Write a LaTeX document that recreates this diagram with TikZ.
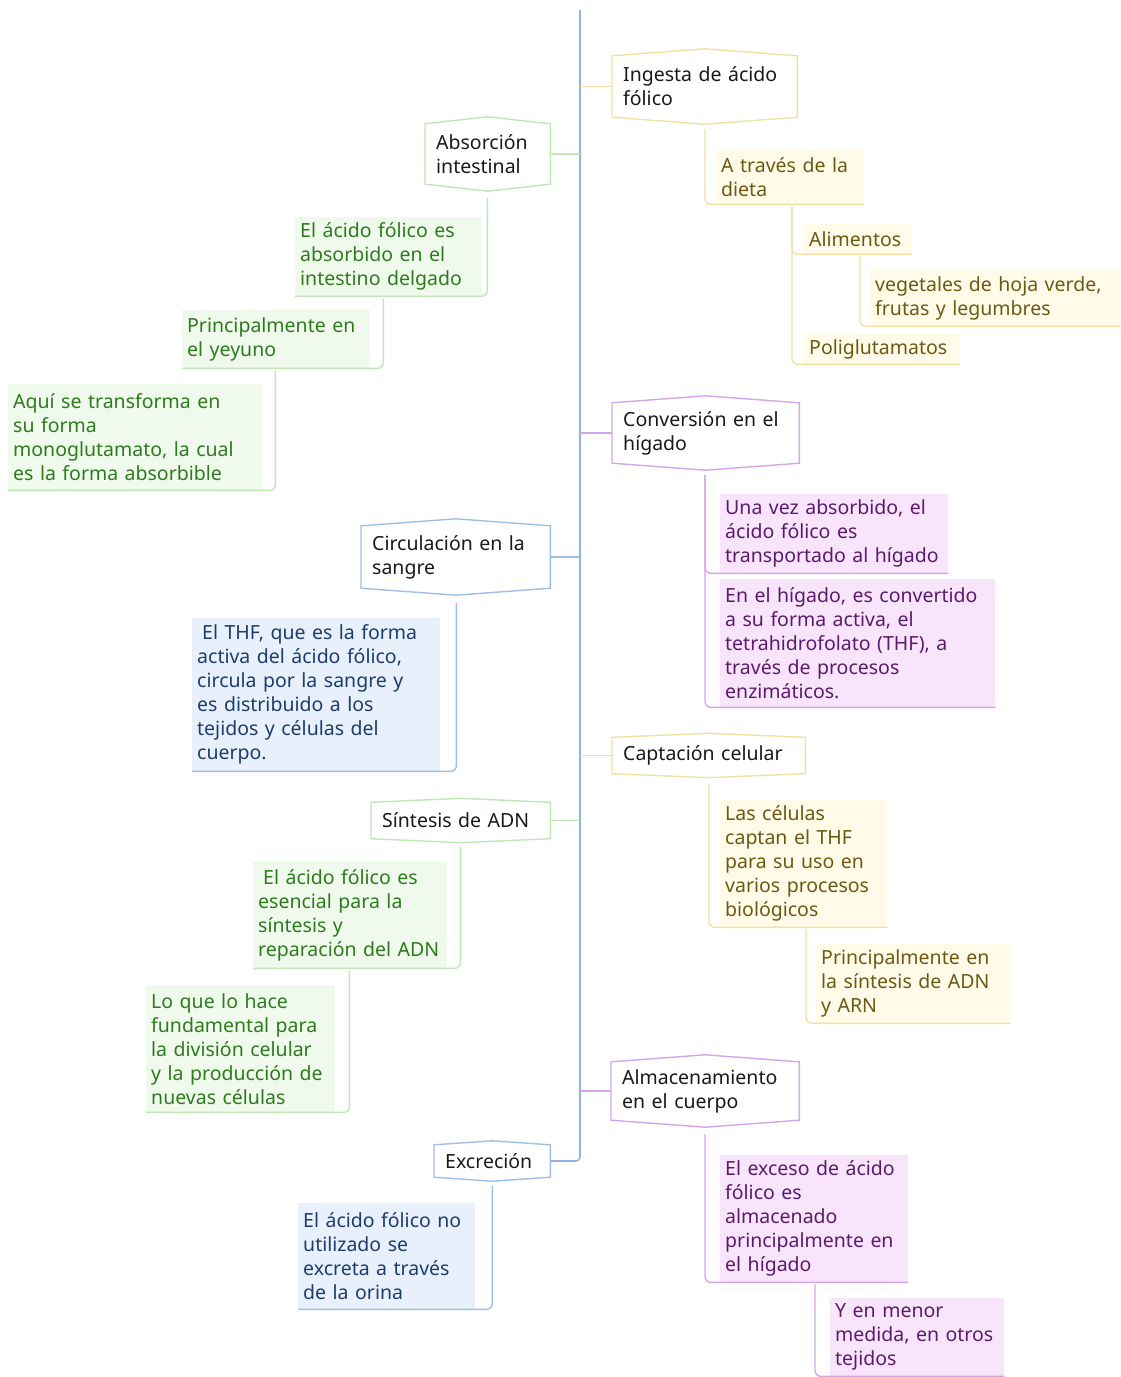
\documentclass[tikz,border=0pt]{standalone}
\usepackage{fontspec}
\setmainfont{Noto Sans}
\usetikzlibrary{calc}
\definecolor{ybord}{HTML}{F1E1A0}
\definecolor{yfill}{HTML}{FFFBE8}
\definecolor{ytext}{HTML}{6B5A14}
\definecolor{pbord}{HTML}{D6A4E8}
\definecolor{pfill}{HTML}{F8E5FB}
\definecolor{ptext}{HTML}{5C1A6E}
\definecolor{gbord}{HTML}{BCE8B4}
\definecolor{gfill}{HTML}{EFFAEC}
\definecolor{gtext}{HTML}{2E7A1E}
\definecolor{bbord}{HTML}{9FBEE7}
\definecolor{bfill}{HTML}{E7F0FB}
\definecolor{btext}{HTML}{1F3D6B}
\definecolor{mainblue}{HTML}{8FB4E2}
\newcommand\hexframe[3]{\draw[line width=1.4pt, draw=#2] (#1.north west) -- ([yshift=#3]#1.north) -- (#1.north east) -- (#1.south east) -- ([yshift=-#3]#1.south) -- (#1.south west) -- cycle;}
\begin{document}
\begin{tikzpicture}[x=1pt,y=-1pt,
  txt/.style={font=\fontsize{19.5}{24}\selectfont},
  mainnode/.style={txt, anchor=west, inner xsep=11pt, inner ysep=0pt, align=left, text={black!90}},
  subnode/.style={txt, anchor=north west, inner xsep=5pt, inner ysep=0pt, align=left},
  ysub/.style={subnode, fill=yfill, text=ytext},
  psub/.style={subnode, fill=pfill, text=ptext},
  gsub/.style={subnode, fill=gfill, text=gtext},
  bsub/.style={subnode, fill=bfill, text=btext},
  conn/.style={line width=1.4pt, rounded corners=6pt},
  yl/.style={conn, draw=ybord},
  pl/.style={conn, draw=pbord},
  gl/.style={conn, draw=gbord},
  bl/.style={conn, draw=bbord},
  mainl/.style={line width=1.6pt, draw=mainblue, rounded corners=4pt}
]
\useasboundingbox (0,0) rectangle (1120,1377);
\coordinate (root) at (580,10);

% main topics
\node[mainnode, text width=163, minimum height=61] (ingesta) at (612,86.5) {Ingesta de ácido\\fólico};
\node[mainnode, text width=103, minimum height=60] (absorcion) at (425,154) {Absorción\\intestinal};
\node[mainnode, text width=165, minimum height=60] (conversion) at (612,433) {Conversión en el\\hígado};
\node[mainnode, text width=167, minimum height=62] (circulacion) at (361,557) {Circulación en la\\sangre};
\node[mainnode, text width=171, minimum height=36] (captacion) at (612,755.5) {Captación celular};
\node[mainnode, text width=157, minimum height=36] (sintesis) at (371,820.5) {Síntesis de ADN};
\node[mainnode, text width=166, minimum height=58] (almacen) at (611,1091) {Almacenamiento\\en el cuerpo};
\node[mainnode, text width=94, minimum height=32] (excrecion) at (434,1161) {Excreción};

\hexframe{ingesta}{ybord}{7pt}
\hexframe{absorcion}{gbord}{7pt}
\hexframe{conversion}{pbord}{7pt}
\hexframe{circulacion}{bbord}{7pt}
\hexframe{captacion}{ybord}{4pt}
\hexframe{sintesis}{gbord}{4pt}
\hexframe{almacen}{pbord}{7pt}
\hexframe{excrecion}{bbord}{4pt}

% main line and branches
\draw[mainl] (root) |- (excrecion.east);
\draw[yl] (ingesta.west -| root) -- (ingesta.west);
\draw[gl] (absorcion.east -| root) -- (absorcion.east);
\draw[pl] (conversion.west -| root) -- (conversion.west);
\draw[bl] (circulacion.east -| root) -- (circulacion.east);
\draw[yl] (captacion.west -| root) -- (captacion.west);
\draw[gl] (sintesis.east -| root) -- (sintesis.east);
\draw[pl] (almacen.west -| root) -- (almacen.west);

% right side details
\node[ysub, text width=138, minimum height=54] (dieta) at (716,150) {A través de la\\dieta};
\node[ysub, text width=98, minimum height=30] (alimentos) at (804,224) {Alimentos};
\node[ysub, text width=240, minimum height=56] (vegetales) at (870,270) {vegetales de hoja verde,\\frutas y legumbres};
\node[ysub, text width=146, minimum height=30] (poligl) at (804,334) {Poliglutamatos};
\node[psub, text width=218, minimum height=79] (unavez) at (720,494) {Una vez absorbido, el\\ácido fólico es\\transportado al hígado};
\node[psub, text width=265, minimum height=128] (enhigado) at (720,579) {En el hígado, es convertido\\a su forma activa, el\\tetrahidrofolato (THF), a\\través de procesos\\enzimáticos.};
\node[ysub, text width=157, minimum height=127] (celulas) at (720,800) {Las células\\captan el THF\\para su uso en\\varios procesos\\biológicos};
\node[ysub, text width=184, minimum height=79] (princadn) at (816,944) {Principalmente en\\la síntesis de ADN\\y ARN};
\node[psub, text width=178, minimum height=127] (exceso) at (720,1155) {El exceso de ácido\\fólico es\\almacenado\\principalmente en\\el hígado};
\node[psub, text width=164, minimum height=78] (menor) at (830,1298) {Y en menor\\medida, en otros\\tejidos};

% left side details
\node[gsub, text width=177, minimum height=79] (absorbido) at (295,217) {El ácido fólico es\\absorbido en el\\intestino delgado};
\node[gsub, text width=178, minimum height=58] (yeyuno) at (182,310) {Principalmente en\\el yeyuno};
\node[gsub, text width=244, minimum height=106] (aqui) at (8,384) {Aquí se transforma en\\su forma\\monoglutamato, la cual\\es la forma absorbible};
\node[bsub, text width=238, minimum height=153] (thf) at (192,618) {\hspace*{5pt}El THF, que es la forma\\activa del ácido fólico,\\circula por la sangre y\\es distribuido a los\\tejidos y células del\\cuerpo.};
\node[gsub, text width=184, minimum height=106] (esencial) at (253,862) {\hspace*{5pt}El ácido fólico es\\esencial para la\\síntesis y\\reparación del ADN};
\node[gsub, text width=179, minimum height=127] (loque) at (146,985) {Lo que lo hace\\fundamental para\\la división celular\\y la producción de\\nuevas células};
\node[bsub, text width=167, minimum height=106] (orina) at (298,1203) {El ácido fólico no\\utilizado se\\excreta a través\\de la orina};

% detail connectors (right)
\draw[yl] (ingesta.south -| dieta.west) ++(-11,12) |- (dieta.south east);
\draw[yl] (dieta.south -| alimentos.west) ++(-12,2) |- (alimentos.south east);
\draw[yl] (alimentos.south -| vegetales.west) ++(-10,2) |- (vegetales.south east);
\draw[yl] (dieta.south -| poligl.west) ++(-12,2) |- (poligl.south east);
\draw[pl] (conversion.south -| unavez.west) ++(-15,12) |- (unavez.south east);
\draw[pl] (conversion.south -| enhigado.west) ++(-15,12) |- (enhigado.south east);
\draw[yl] (captacion.south -| celulas.west) ++(-11,9) |- (celulas.south east);
\draw[yl] (celulas.south -| princadn.west) ++(-10,2) |- (princadn.south east);
\draw[pl] (almacen.south -| exceso.west) ++(-15,14) |- (exceso.south east);
\draw[pl] (exceso.south -| menor.west) ++(-15,2) |- (menor.south east);

% detail connectors (left)
\draw[gl] (absorcion.south -| absorbido.east) ++(5,14) |- (absorbido.south west);
\draw[gl] (absorbido.south -| yeyuno.east) ++(13,2) |- (yeyuno.south west);
\draw[gl] (yeyuno.south -| aqui.east) ++(13,2) |- (aqui.south west);
\draw[bl] (circulacion.south -| thf.east) ++(16,15) |- (thf.south west);
\draw[gl] (sintesis.south -| esencial.east) ++(13,8) |- (esencial.south west);
\draw[gl] (esencial.south -| loque.east) ++(14,2) |- (loque.south west);
\draw[bl] (excrecion.south -| orina.east) ++(17,9) |- (orina.south west);
\end{tikzpicture}
\end{document}
